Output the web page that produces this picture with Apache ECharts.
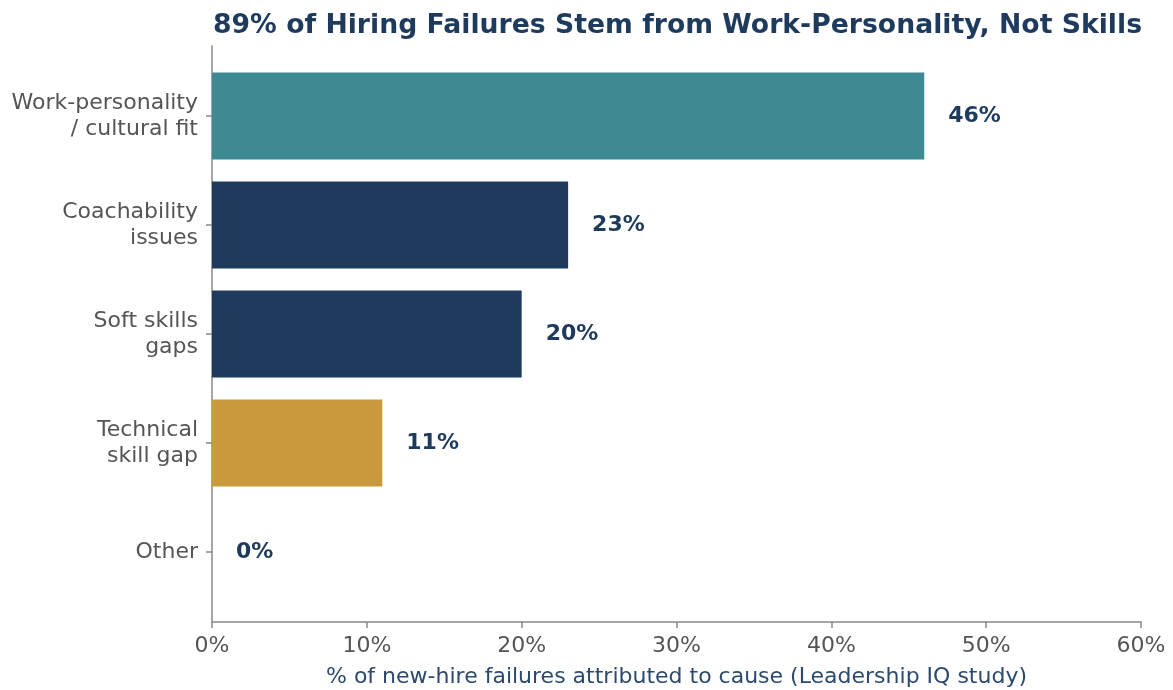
<!DOCTYPE html>
<html>
<head>
<meta charset="utf-8">
<script src="https://cdn.jsdelivr.net/npm/echarts@6/dist/echarts.min.js"></script>
<style>html,body{margin:0;padding:0;background:#fff;}#c{width:1173px;height:690px;}</style>
</head>
<body>
<div id="c"></div>
<script>
const categories = ['Work-personality\n/ cultural fit', 'Coachability\nissues', 'Soft skills\ngaps', 'Technical\nskill gap', 'Other'];
const values = [46, 23, 20, 11, 0];
const barColors = ['#3e8a92', '#1e3a5c', '#1e3a5c', '#c8993d', '#1e3a5c'];
const xTicks = [0, 10, 20, 30, 40, 50, 60];

const FONT = 'DejaVu Sans';
const chart = echarts.init(document.getElementById('c'));
chart.setOption({
  backgroundColor: '#fff',
  animation: false,
  title: {
    text: '89% of Hiring Failures Stem from Work-Personality, Not Skills',
    left: 672.5, top: 8, textAlign: 'center',
    textStyle: { fontFamily: FONT, fontSize: 26.7, fontWeight: 'bold', color: '#1e3a5c' }
  },
  grid: [
    { left: 212, width: 929, top: 46, height: 576, outerBoundsMode: 'none' },
    { left: 212, width: 929, top: 61.5, height: 545, outerBoundsMode: 'none' }
  ],
  xAxis: [
    {
      gridIndex: 0, type: 'value', min: xTicks[0], max: xTicks[xTicks.length - 1], interval: 10,
      axisLine: { show: true, lineStyle: { color: '#888', width: 1.5 } },
      axisTick: { show: true, length: 6, lineStyle: { color: '#888', width: 1.5 } },
      axisLabel: { formatter: '{value}%', fontFamily: FONT, fontSize: 22, color: '#555', margin: 13 },
      splitLine: { show: false },
      name: '% of new-hire failures attributed to cause (Leadership IQ study)',
      nameLocation: 'middle', nameGap: 44,
      nameTextStyle: { fontFamily: FONT, fontSize: 22, color: '#2c4a6e' }
    },
    {
      gridIndex: 1, type: 'value', min: xTicks[0], max: xTicks[xTicks.length - 1], show: false
    }
  ],
  yAxis: [
    {
      gridIndex: 0, type: 'value', min: 0, max: 1,
      axisLine: { show: true, lineStyle: { color: '#888', width: 1.5 } },
      axisTick: { show: false }, axisLabel: { show: false }, splitLine: { show: false }
    },
    {
      gridIndex: 1, type: 'category', data: categories, inverse: true,
      axisLine: { show: false },
      axisTick: { show: true, alignWithLabel: true, length: 6, lineStyle: { color: '#888', width: 1.5 } },
      axisLabel: { fontFamily: FONT, fontSize: 22, color: '#555', lineHeight: 26, margin: 14, align: 'right', padding: [5, 0, 0, 0] },
      splitLine: { show: false }
    }
  ],
  series: [{
    type: 'bar', xAxisIndex: 1, yAxisIndex: 1,
    barWidth: '80%',
    data: values.map((v, i) => ({ value: v, itemStyle: { color: barColors[i] } })),
    label: {
      show: true, position: 'right', distance: 24,
      formatter: p => p.value + '%',
      fontFamily: FONT, fontSize: 22, fontWeight: 'bold', color: '#1e3a5c'
    }
  }]
});
</script>
</body>
</html>
